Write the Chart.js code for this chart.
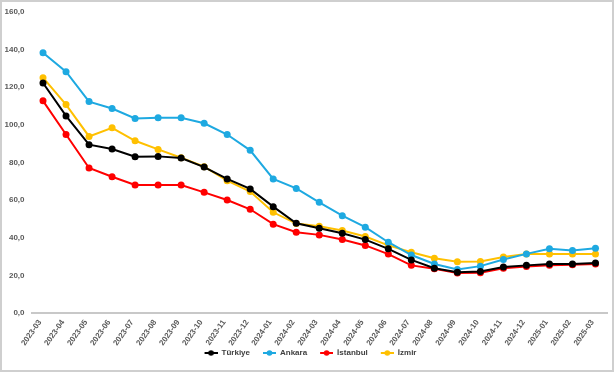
<!DOCTYPE html>
<html>
<head>
<meta charset="utf-8">
<script src="https://cdn.jsdelivr.net/npm/chart.js@4.4.1/dist/chart.umd.min.js"></script>
<style>
    html, body { margin: 0; padding: 0; background: #fff; }
    #wrap { position: relative; width: 614px; height: 372px; }
</style>
</head>
<body>
<div id="wrap"><canvas id="chart" width="614" height="372"></canvas></div>
<script>
const months = [
    '2023-03', '2023-04', '2023-05', '2023-06', '2023-07', '2023-08', '2023-09',
    '2023-10', '2023-11', '2023-12', '2024-01', '2024-02', '2024-03', '2024-04',
    '2024-05', '2024-06', '2024-07', '2024-08', '2024-09', '2024-10', '2024-11',
    '2024-12', '2025-01', '2025-02', '2025-03'
]

const turkiye = [122.2, 104.7, 89.4, 87.1, 83.0, 83.2, 82.3, 77.5, 71.2, 65.9, 56.5, 47.7, 45.0,
    42.4, 39.0, 34.1, 28.2, 23.8, 21.7, 22.1, 24.4, 25.3, 26.0, 26.0, 26.5]
const ankara = [138.3, 128.2, 112.3, 108.6, 103.3, 103.7, 103.7, 100.8, 94.8, 86.4, 71.2, 66.2, 58.8,
    51.7, 45.6, 37.6, 30.8, 26.0, 23.1, 24.9, 28.4, 31.4, 34.1, 33.2, 34.4]
const istanbul = [112.7, 94.8, 77.0, 72.4, 68.0, 68.0, 68.0, 64.1, 60.0, 55.1, 47.2, 42.9, 41.5,
    39.0, 35.9, 31.3, 25.3, 23.5, 21.2, 21.4, 23.8, 24.7, 25.3, 25.6, 26.0]
const izmir = [125.0, 110.7, 93.8, 98.4, 91.5, 86.9, 82.5, 77.7, 70.3, 64.5, 53.5, 47.5, 46.1,
    43.8, 40.6, 35.9, 32.3, 29.1, 27.2, 27.4, 29.7, 31.4, 31.4, 31.4, 31.4]

const seriesNames = ['Türkiye', 'Ankara', 'İstanbul', 'İzmir']
const seriesColors = ['#000000', '#1ea9e1', '#ff0000', '#ffc000']
const seriesData = [turkiye, ankara, istanbul, izmir]

const yTicks = [0, 20, 40, 60, 80, 100, 120, 140, 160]

const narrowFont = '"Liberation Sans Narrow", "Liberation Sans", Arial, sans-serif'

// "line with dot" legend marker, blank space on the left works as item gap
const makeMarker = (color) => {
    const c = document.createElement('canvas')
    c.width = 23
    c.height = 8
    const ctx = c.getContext('2d')
    ctx.strokeStyle = color
    ctx.lineWidth = 2
    ctx.beginPath()
    ctx.moveTo(10, 4)
    ctx.lineTo(23, 4)
    ctx.stroke()
    ctx.fillStyle = color
    ctx.beginPath()
    ctx.arc(16.5, 4, 2.8, 0, Math.PI * 2)
    ctx.fill()
    return c
}

const frame = {
    id: 'frame',
    beforeDraw: (chart) => {
        const ctx = chart.ctx
        ctx.save()
        ctx.fillStyle = '#ffffff'
        ctx.fillRect(0, 0, chart.width, chart.height)
        ctx.strokeStyle = '#cfcfcf'
        ctx.lineWidth = 2
        ctx.strokeRect(1, 1, chart.width - 2, chart.height - 2)
        ctx.restore()
    }
}

const data = {
    labels: months,
    datasets: seriesNames.map((name, i) => ({
        label: name,
        data: seriesData[i],
        borderColor: seriesColors[i],
        backgroundColor: seriesColors[i],
        borderWidth: 2,
        pointRadius: 3.5,
        pointHoverRadius: 3.5,
        pointBorderWidth: 0,
        tension: 0,
        fill: false,
    }))
}

const options = {
    responsive: false,
    animation: false,
    layout: {
        padding: { top: 2, right: 7, left: 4, bottom: 5 }
    },
    plugins: {
        tooltip: { enabled: false },
        legend: {
            position: 'bottom',
            labels: {
                usePointStyle: true,
                pointStyleWidth: 23,
                color: '#404040',
                padding: 3,
                font: { family: narrowFont, size: 8, weight: 'bold' },
                generateLabels: (chart) => {
                    return chart.data.datasets.map((ds, i) => ({
                        text: ds.label,
                        fillStyle: ds.borderColor,
                        strokeStyle: ds.borderColor,
                        pointStyle: makeMarker(ds.borderColor),
                        fontColor: '#404040',
                        hidden: false,
                        datasetIndex: i,
                    }))
                }
            }
        }
    },
    scales: {
        x: {
            offset: true,
            grid: { display: false, drawTicks: false },
            border: { display: true, color: '#c8c8c8', width: 2 },
            ticks: {
                color: '#595959',
                maxRotation: 55,
                minRotation: 55,
                autoSkip: false,
                padding: 5,
                labelOffset: -3,
                font: { family: narrowFont, size: 8, weight: 'bold' }
            },
            afterFit: (scale) => { scale.height = 33 }
        },
        y: {
            min: 0,
            max: 160,
            grid: { display: false, drawTicks: false },
            border: { display: false },
            afterBuildTicks: (scale) => {
                scale.ticks = yTicks.map(v => ({ value: v }))
            },
            ticks: {
                color: '#595959',
                padding: 7,
                font: { family: 'Liberation Sans', size: 8, weight: 'bold' },
                callback: (value) => value.toFixed(1).replace('.', ',')
            },
            afterFit: (scale) => { scale.width = 27.5 }
        }
    }
}

const chartDoc = document.getElementById('chart')
const chart = new Chart(chartDoc, {
    type: 'line',
    data: data,
    options: options,
    plugins: [frame],
})
</script>
</body>
</html>
